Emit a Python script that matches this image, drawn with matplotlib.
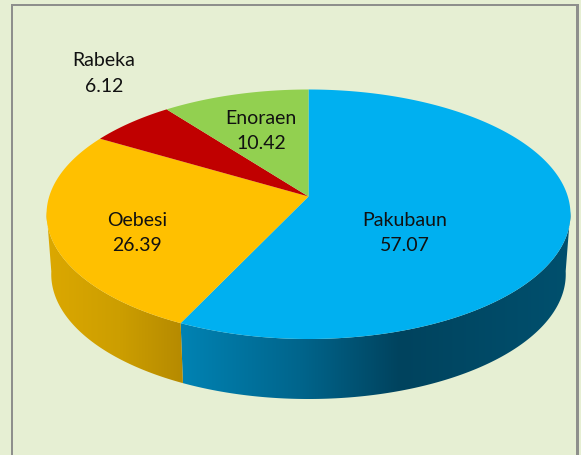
import numpy as np
import matplotlib
matplotlib.use("Agg")
import matplotlib.pyplot as plt
from matplotlib.path import Path
from matplotlib.transforms import Transform, Affine2D
from matplotlib.patches import Rectangle, Polygon
from matplotlib.colors import to_rgb

names = ["Pakubaun", "Oebesi", "Rabeka", "Enoraen"]
values = [57.07, 26.39, 6.12, 10.42]
colors = ["#00B0F0", "#FFC000", "#C00000", "#92D050"]
label_pos = [(405, 233), (137, 233), (104, 73.5), (261, 131)]

BG = "#E6EFD3"
CX, KX, C, A, B = 308.5, 259.3, 0.1423, -94.12, 197.5
DEPTH, SHRINK = 60.0, 0.982
# wall shading stops: screen x -> colour, per slice (None: back slice, no wall seen)
wall_x = [[175, 300, 400, 571], [46, 120, 190], None, None]
wall_c = [["#0084B5", "#00658C", "#00435E", "#00506E"],
          ["#DCA800", "#CC9E00", "#B38800"], None, None]


class Tilt(Transform):
    """Projective tilt of the unit pie into screen coordinates."""
    input_dims = output_dims = 2
    has_inverse = False

    def transform_non_affine(self, xy):
        xy = np.asarray(xy, float)
        u, v = xy[:, 0], xy[:, 1]
        w = 1 + C * v
        return np.column_stack((CX + KX * u / w, (A * v + B) / w))

    def transform_path_non_affine(self, path):
        polys = path.transformed(Affine2D().scale(2000)).to_polygons(closed_only=True)
        pts = np.vstack(polys) / 2000
        return Path(self.transform_non_affine(pts), closed=False)


fig = plt.figure(figsize=(5.81, 4.56), dpi=100, facecolor=BG)
ax = fig.add_axes([0, 0, 1, 1])
wedges, _ = ax.pie(values, colors=colors, startangle=90, counterclock=False,
                   wedgeprops=dict(linewidth=0))

tilt = Tilt()
for w in wedges:
    w.set_transform(tilt + ax.transData)
    w.set_zorder(3)

# side wall, extruded from the same wedge angles, with a horizontal gradient
for w, xs, cs in zip(wedges, wall_x, wall_c):
    if xs is None:
        continue
    t = np.radians(np.linspace(w.theta1, w.theta2, 400))
    rim = tilt.transform_non_affine(np.column_stack((np.cos(t), np.sin(t))))
    rim = rim[rim[:, 1] >= 212]
    low = np.column_stack((CX + (rim[:, 0] - CX) * SHRINK, rim[:, 1] + DEPTH))
    poly = Polygon(np.vstack((rim, low[::-1])), closed=True, transform=ax.transData,
                   facecolor="none", edgecolor="none")
    ax.add_patch(poly)
    px = np.arange(min(xs), max(xs) + 1)
    rgb = np.array([to_rgb(c) for c in cs])
    grad = np.stack([np.interp(px, xs, rgb[:, i]) for i in range(3)], axis=-1)[None, :, :]
    im = ax.imshow(grad, extent=[min(xs), max(xs), 420, 180], aspect="auto",
                   interpolation="bilinear", zorder=2)
    im.set_clip_path(poly)

ax.set_aspect("auto")
ax.set_xlim(0, 581)
ax.set_ylim(456, 0)
ax.axis("off")

# chart-area frame (open at the bottom, cropped screenshot)
for xy, wd, ht in [((11, 5), 567.5, 2.4), ((11, 5), 2.4, 451), ((576.3, 5), 2.4, 451)]:
    ax.add_patch(Rectangle(xy, wd, ht, facecolor="#8E8F8C", edgecolor="none", zorder=1))

for name, val, (x, y) in zip(names, values, label_pos):
    ax.text(x, y, f"{name}\n{val:.2f}", ha="center", va="center", family="Lato",
            fontsize=14, color="#111111", linespacing=1.62, zorder=4)

fig.savefig("out.png", dpi=100, facecolor=BG)
